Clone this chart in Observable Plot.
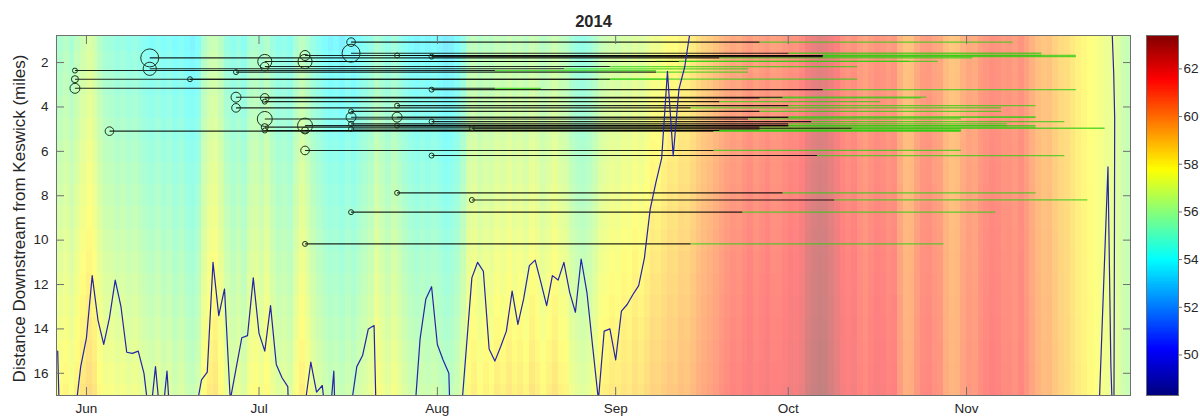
<!DOCTYPE html>
<html><head><meta charset="utf-8">
<script src="https://cdn.jsdelivr.net/npm/d3@7"></script>
<script src="https://cdn.jsdelivr.net/npm/@observablehq/plot@0.6"></script>
<style>
body{margin:0;background:#fff;font-family:"Liberation Sans",Arial,sans-serif;}
#wrap{position:relative;width:1200px;height:418px;overflow:hidden;}
#main{position:absolute;left:0;top:0;}
#bar{position:absolute;left:1140px;top:0;}
</style></head><body><div id="wrap"><div id="main"></div><div id="bar"></div></div>
<script>
// ---------- data ----------
const titleText = "2014";
const yLabel = "Distance Downstream from Keswick (miles)";
const firstDay = "2014-05-27";
const monthTicks = ["2014-06-01","2014-07-01","2014-08-01","2014-09-01","2014-10-01","2014-11-01"];
const yTicks = [2,4,6,8,10,12,14,16];
const barTicks = [50,52,54,56,58,60,62];
const tempRange = [48.3, 63.4];

// daily water temperature (°F) near Keswick (~mile 0.8), May 27 – Nov 30
const tempUpstream = [
 55.3,55.6,55.2,55.8,56.2,
 56.6,56.3,55.5,55.0,54.9,54.6,54.8,54.5,54.7,54.4,
 54.2,54.0,54.3,54.0,54.2,53.9,54.1,53.8,53.6,54.0,
 55.4,56.0,56.2,55.6,54.8,54.4,54.7,54.3,55.2,55.4,
 55.0,55.5,54.8,54.4,54.6,54.3,55.2,55.8,55.3,54.7,
 54.3,53.9,53.6,53.8,53.5,53.9,53.6,54.0,54.3,54.6,
 55.3,54.9,54.5,55.0,54.6,54.2,53.9,53.7,53.9,53.7,
 53.9,53.6,53.4,53.5,53.9,54.6,55.6,55.9,55.5,55.8,
 55.6,56.0,55.8,56.1,55.8,56.0,55.7,56.2,55.9,55.6,
 55.9,56.2,55.8,55.7,55.0,54.7,54.6,54.9,55.3,56.0,
 56.2,56.4,56.3,56.6,56.5,56.8,56.6,56.9,57.3,57.2,
 57.5,57.8,57.7,58.0,58.0,58.3,58.7,59.0,59.2,59.5,
 59.8,60.1,60.3,60.2,60.5,60.7,60.4,60.6,60.8,60.5,
 60.6,60.8,61.0,60.9,61.2,61.8,62.1,62.3,62.2,61.9,
 61.5,61.0,60.8,61.0,60.6,60.4,60.7,60.9,60.8,60.6,
 60.8,60.0,59.5,59.6,60.2,60.6,60.7,60.4,60.3,59.7,
 59.4,59.5,60.0,60.3,60.2,60.6,60.8,61.0,60.9,60.7,
 60.8,60.6,60.9,60.5,60.0,59.6,59.4,59.5,59.1,58.8,
 58.7,58.4,58.1,57.9,57.7,57.6,57.4,57.2,57.1,56.7,
 56.2,56.0,55.9
];
// daily water temperature (°F) at mile 17, same days
const tempDownstream = [
 57.8,58.0,57.6,58.1,58.5,
 58.8,58.5,57.9,57.5,57.6,57.3,57.5,57.2,57.4,57.1,
 56.9,56.7,57.0,56.6,56.8,56.4,56.7,56.3,56.0,56.5,
 57.8,58.3,58.5,57.9,57.2,56.8,57.1,56.7,57.6,57.8,
 57.4,57.9,57.2,56.8,57.0,56.7,57.6,58.2,57.7,57.1,
 56.7,56.4,56.1,56.3,56.0,56.4,56.1,56.5,56.8,57.1,
 57.8,57.4,57.0,57.5,57.1,56.7,56.4,56.2,56.4,56.2,
 56.4,56.1,55.8,55.9,56.3,57.0,57.9,58.2,57.8,58.1,
 57.9,58.3,58.1,58.4,58.1,58.3,58.0,58.5,58.2,57.9,
 58.2,58.5,58.1,58.0,57.3,57.0,56.8,57.1,57.5,58.1,
 58.2,58.4,58.3,58.5,58.4,58.7,58.5,58.8,59.1,59.0,
 59.2,59.4,59.3,59.6,59.5,59.8,60.1,60.3,60.5,60.7,
 61.0,61.2,61.4,61.3,61.5,61.7,61.4,61.6,61.8,61.5,
 61.5,61.7,61.9,61.8,62.1,62.8,63.1,63.3,63.2,62.8,
 62.3,61.8,61.6,61.8,61.4,61.2,61.5,61.7,61.6,61.4,
 61.5,60.7,60.1,60.2,60.8,61.2,61.3,61.0,60.9,60.2,
 59.9,60.0,60.5,60.8,60.7,61.1,61.3,61.5,61.4,61.2,
 61.2,61.0,61.3,60.9,60.4,60.0,59.7,59.8,59.4,59.1,
 58.9,58.6,58.3,58.1,57.9,57.7,57.5,57.3,57.2,56.8,
 56.3,56.1,56.0
];
const edgeMiles = [0.8, 17];
const rowMiles = [1,2,3,4,5,6,7,8,9,10,11,12,13,14,15,16,17];

// blue line: daily distance (miles) from May 27 to Sep 14 (values > 17 are off the chart)
const lineMiles = [
 15.0,25,25,17.9,15.7,
 14.4,11.6,13.6,14.7,13.5,11.8,13.0,15.05,15.1,15.0,
 16.0,18.2,15.7,18.5,15.9,20,25,25,25,17.7,
 16.3,15.95,11.0,13.4,12.2,17.2,15.8,14.4,14.3,11.7,
 14.2,15.0,12.95,15.6,16.2,16.6,25,25,17.4,15.5,
 16.85,16.55,19,15.9,25,25,17.5,15.7,15.2,14.0,
 13.85,25,25,25,25,25,25,18,14.45,12.65,
 12.1,14.7,15.4,16.0,25,18.3,15.0,11.7,11.0,11.4,
 14.9,15.45,14.8,14.1,12.3,13.8,12.65,11.15,10.9,11.9,
 12.95,11.6,11.8,11.0,12.35,13.25,10.85,12.35,14.8,17.2,
 14.1,14.0,15.4,13.2,12.9,12.45,12.05,10.8,8.6,7.4,
 6.3,2.4,6.2,3.2,2.2,0.5
];
// late-November pieces of the blue line
const lateSegment = ["a","a","a","a","b","b","b","b","b"];
const lateTimes = ["2014-11-24T02:00","2014-11-25T14:00","2014-11-26T02:00","2014-11-26T07:00",
                   "2014-11-26T07:00","2014-11-26T14:00","2014-11-26T18:00","2014-11-26T17:00","2014-11-26T15:00"];
const lateMiles = [17.3,6.7,15.6,17.3, 0.5,2.5,4.5,10,17.3];

// tagged fish tracks
const trackRelease = ["2014-07-17","2014-07-17","2014-07-09","2014-07-25","2014-07-31","2014-06-12","2014-07-02","2014-07-09","2014-07-02","2014-06-12",
 "2014-05-30","2014-06-27","2014-05-30","2014-06-19","2014-05-30","2014-07-31","2014-06-27","2014-07-02","2014-07-02","2014-07-25",
 "2014-06-27","2014-07-17","2014-07-17","2014-07-25","2014-07-02","2014-07-31","2014-07-17","2014-07-09","2014-07-25","2014-07-02",
 "2014-08-07","2014-07-17","2014-07-02","2014-07-09","2014-06-05","2014-07-09","2014-07-31","2014-07-25","2014-08-07","2014-07-17","2014-07-09"];
const trackMile = [1.08,1.58,1.68,1.68,1.73,1.79,1.95,1.95,2.18,2.28,
 2.36,2.43,2.75,2.75,3.16,3.22,3.56,3.59,3.76,3.94,
 4.04,4.2,4.46,4.46,4.54,4.66,4.76,4.84,4.84,4.91,
 4.96,4.99,5.06,5.06,5.09,5.96,6.19,7.87,8.19,8.74,10.17];
const trackCount = [3,13,4,1,1,13,8,8,3,7,
 1,1,2,1,4,1,4,3,1,1,
 3,1,4,4,9,1,1,9,1,2,
 1,1,1,2,3,3,1,1,1,1,1];
const trackBlackEnd = ["2014-09-26","2014-10-01","2014-10-07","2014-10-07","2014-10-07","2014-09-19","2014-09-12","2014-09-08","2014-08-31","2014-08-23",
 "2014-08-11","2014-09-08","2014-08-31","2014-08-29","2014-08-11","2014-10-07","2014-09-30","2014-09-26","2014-09-19","2014-10-01",
 "2014-09-14","2014-09-26","2014-10-01","2014-10-01","2014-09-24","2014-10-05","2014-10-01","2014-10-01","2014-10-01","2014-09-26",
 "2014-10-12","2014-09-26","2014-09-19","2014-09-19","2014-09-18","2014-09-18","2014-10-06","2014-09-30","2014-10-09","2014-09-23","2014-09-14"];
const trackGreenEnd = ["2014-11-09","2014-11-14","2014-11-20","2014-11-14","2014-11-20","2014-11-02","2014-10-27","2014-10-22","2014-10-13","2014-09-24",
 "2014-09-08","2014-09-24","2014-10-13","2014-09-10","2014-08-19","2014-11-20","2014-10-25","2014-10-24","2014-10-17","2014-11-13",
 "2014-11-07","2014-11-07","2014-11-13","2014-11-13","2014-10-31","2014-11-18","2014-11-08","2014-11-08","2014-11-13","2014-11-13",
 "2014-11-25","2014-10-31","2014-10-31","2014-10-31","2014-10-31","2014-10-31","2014-11-18","2014-11-13","2014-11-22","2014-11-06","2014-10-28"];

// ---------- tables ----------
const D = s => new Date(s.length === 10 ? s + "T00:00:00Z" : s + ":00Z");
const start = D(firstDay);
const cells = [];
tempUpstream.forEach((up, i) => {
  const day = d3.utcDay.offset(start, i);
  const next = d3.utcDay.offset(start, i + 1);
  const down = tempDownstream[i];
  rowMiles.forEach(m => {
    const f = Math.max(0, Math.min(1, (m - edgeMiles[0]) / (edgeMiles[1] - edgeMiles[0])));
    cells.push({x1: day, x2: next, y1: m - 0.5, y2: m + 0.5, v: up + (down - up) * f});
  });
});
const mainLine = lineMiles.map((m, i) => ({date: d3.utcDay.offset(start, i), mile: m}));
const lateLine = lateMiles.map((m, i) => ({date: D(lateTimes[i]), mile: m, seg: lateSegment[i]}));
const tracks = trackMile.map((m, i) => ({
  release: D(trackRelease[i]), mile: m, n: trackCount[i],
  blackEnd: D(trackBlackEnd[i]), greenEnd: D(trackGreenEnd[i])
}));

// jet colormap
const span = tempRange[1] - tempRange[0];
const jetStops = [0, 0.125, 0.375, 0.625, 0.875, 1].map(t => tempRange[0] + t * span);
const jet = ["#000080","#0000ff","#00ffff","#ffff00","#ff0000","#800000"];
const jetWashed = jet.map(c => d3.interpolateRgb(c, "#ffffff")(0.5));

const font = "'Liberation Sans', Arial, sans-serif";
const ink = "#262626";
const boxColor = "#707070";

const main = Plot.plot({
  width: 1140, height: 418,
  marginLeft: 56, marginRight: 10, marginTop: 35, marginBottom: 23,
  style: {fontFamily: font, fontSize: "13.5px", color: ink, background: "transparent"},
  x: {type: "utc", domain: [new Date("2014-05-26T19:00:00Z"), new Date("2014-11-29T12:00:00Z")]},
  y: {domain: [0.78, 17.0], reverse: true},
  color: {type: "linear", domain: jetStops, range: jetWashed, clamp: true, interpolate: "rgb"},
  r: {type: "sqrt", domain: [0, 13], range: [0, 9]},
  marks: [
    Plot.rect(cells, {x1: "x1", x2: "x2", y1: "y1", y2: "y2", fill: "v", clip: true, shapeRendering: "crispEdges"}),
    Plot.link(tracks, {x1: "blackEnd", x2: "greenEnd", y1: "mile", y2: "mile", stroke: "#2ccc10", strokeOpacity: 0.75, strokeWidth: 1.3, clip: true}),
    Plot.link(tracks, {x1: "release", x2: "blackEnd", y1: "mile", y2: "mile", stroke: "#000000", strokeOpacity: 0.85, strokeWidth: 1.1, clip: true}),
    Plot.line(mainLine, {x: "date", y: "mile", stroke: "#2424a8", strokeWidth: 1.2, clip: true}),
    Plot.line(lateLine, {x: "date", y: "mile", z: "seg", stroke: "#2424a8", strokeWidth: 1.2, clip: true}),
    Plot.dot(tracks, {x: "release", y: "mile", r: "n", stroke: "#1d3320", fill: "none", strokeWidth: 1}),
    Plot.frame({stroke: boxColor}),
    Plot.axisX(monthTicks.map(D), {anchor: "bottom", tickSize: -8, fill: "none", stroke: boxColor, label: null}),
    Plot.axisX(monthTicks.map(D), {anchor: "top", tickSize: -8, fill: "none", stroke: boxColor, label: null}),
    Plot.axisX(monthTicks.map(D), {anchor: "bottom", tickSize: 0, tickPadding: 8, tickFormat: d3.utcFormat("%b"), fontSize: 13.5, fill: ink, label: null}),
    Plot.axisY(yTicks, {anchor: "left", tickSize: -8, fill: "none", stroke: boxColor, label: null}),
    Plot.axisY(yTicks, {anchor: "right", tickSize: -8, fill: "none", stroke: boxColor, label: null}),
    Plot.axisY(yTicks, {anchor: "left", tickSize: 0, tickPadding: 8, fontSize: 13.5, fill: ink, label: null}),
    Plot.text([titleText], {frameAnchor: "top", lineAnchor: "middle", dy: -14, fontSize: 16.5, fontWeight: "bold", fill: ink}),
    Plot.text([yLabel], {frameAnchor: "left", textAnchor: "middle", lineAnchor: "middle", dx: -37, dy: 3, rotate: -90, fontSize: 17, fill: ink})
  ]
});
document.getElementById("main").appendChild(main);

const ramp = d3.range(tempRange[0], tempRange[1], 0.05);
const bar = Plot.plot({
  width: 60, height: 418,
  marginLeft: 6, marginRight: 22, marginTop: 35, marginBottom: 23,
  style: {fontFamily: font, fontSize: "13.5px", color: ink, background: "transparent"},
  x: {domain: [0, 1], axis: null},
  y: {domain: tempRange},
  color: {type: "linear", domain: jetStops, range: jet, clamp: true, interpolate: "rgb"},
  marks: [
    Plot.rect(ramp, {x1: 0, x2: 1, y1: d => d, y2: d => d + 0.07, fill: d => d, clip: true, shapeRendering: "crispEdges"}),
    Plot.frame({stroke: boxColor}),
    Plot.axisY(barTicks, {anchor: "right", tickSize: 3, tickPadding: 2, fontSize: 13.5, stroke: boxColor, fill: ink, label: null})
  ]
});
document.getElementById("bar").appendChild(bar);
</script></body></html>
